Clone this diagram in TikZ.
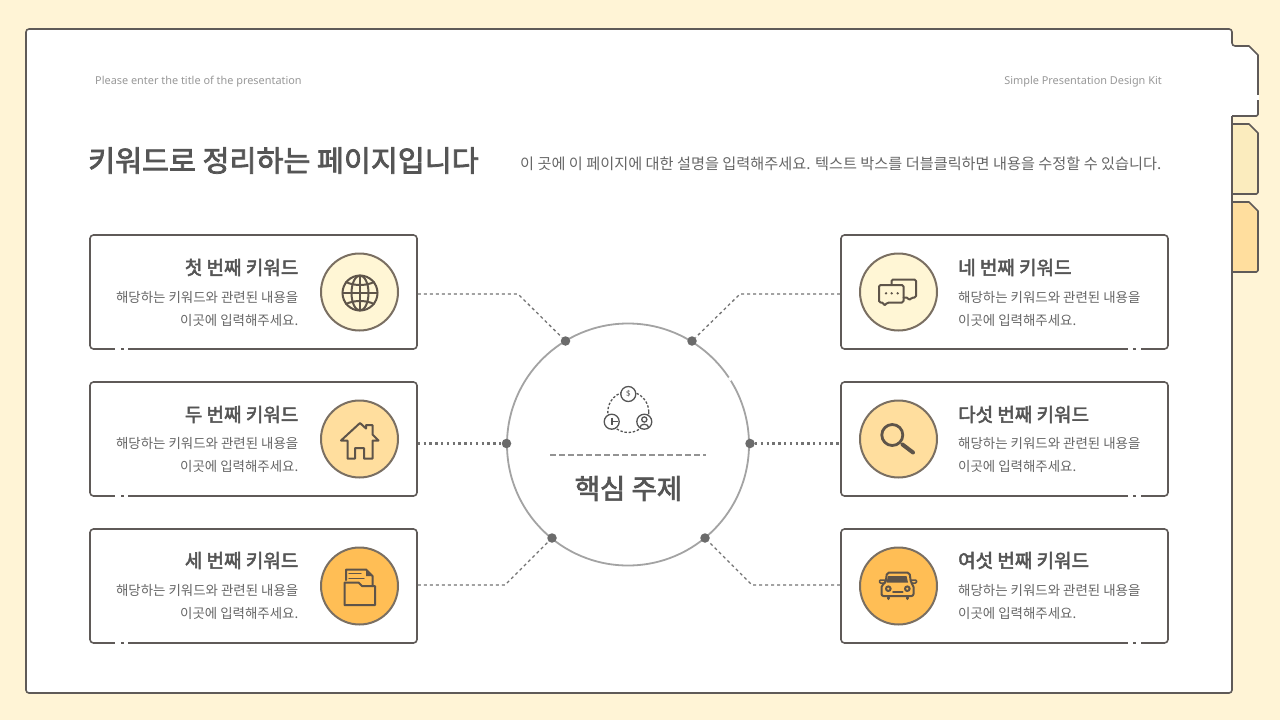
\documentclass[tikz,border=0pt]{standalone}
\usepackage{fontspec}
\setmainfont{Noto Sans CJK KR}
\newfontfamily\latinfont{Noto Sans}
\newfontfamily\medfont{Noto Sans CJK KR}[FakeBold=2.6]
\usepackage{tikz}
\definecolor{pagebg}{HTML}{FFF4D6}
\definecolor{linecol}{HTML}{5F5A58}
\definecolor{ringcol}{HTML}{7A6F62}
\definecolor{iconcol}{HTML}{5E5449}
\definecolor{textcol}{HTML}{555555}
\definecolor{bodycol}{HTML}{666666}
\definecolor{softcol}{HTML}{FFF6D5}
\definecolor{midcol}{HTML}{FFDE9E}
\definecolor{deepcol}{HTML}{FFBE55}
\definecolor{tabcol}{HTML}{FBECBE}

\begin{document}
\begin{tikzpicture}[x=1pt,y=-1pt]
    \useasboundingbox (0,0) rectangle (1280,720);
    \fill[pagebg] (0,0) rectangle (1280,720);

    \begin{scope}[draw=linecol,line width=1.6pt,line join=round]
        \filldraw[fill=tabcol] (1232,124) -- (1249,124) -- (1258,133) -- (1258,192) [rounded corners=1.5] -- (1258,194) -- (1232,194);
        \filldraw[fill=midcol] (1232,202) -- (1249,202) -- (1258,211) -- (1258,270) [rounded corners=1.5] -- (1258,272) -- (1232,272);
        \fill[white,rounded corners=3] (26,29) rectangle (1232,693);
        \fill[white] (1225,46) -- (1249,46) -- (1258,55) -- (1258,116) -- (1225,116) -- cycle;
        \draw (1232,116) -- (1232,690) [rounded corners=3] -- (1232,693) -- (26,693) -- (26,29) -- (1232,29) -- (1232,46) [sharp corners] -- (1249,46) -- (1258,55) -- (1258,114) [rounded corners=1.5] -- (1258,116) -- (1232,116);
        \draw[white,line width=2.4pt] (1258,95) -- (1258,100);
    \end{scope}

    \begin{scope}[every node/.style={draw=linecol,line width=1.6pt,fill=white,rounded corners=3.5,minimum width=327,minimum height=114,inner sep=0}]
        \node (card1) at (253.5,292) {};
        \node (card2) at (253.5,439) {};
        \node (card3) at (253.5,586) {};
        \node (card4) at (1004.5,292) {};
        \node (card5) at (1004.5,439) {};
        \node (card6) at (1004.5,586) {};
    \end{scope}

    \begin{scope}[draw=white,line width=2.4pt]
        \draw (115,349) -- (120.5,349);
        \draw (123.5,349) -- (128,349);
        \draw (115,496) -- (120.5,496);
        \draw (123.5,496) -- (128,496);
        \draw (115,643) -- (120.5,643);
        \draw (123.5,643) -- (128,643);
        \draw (1128,349) -- (1132.5,349);
        \draw (1135.5,349) -- (1141,349);
        \draw (1128,496) -- (1132.5,496);
        \draw (1135.5,496) -- (1141,496);
        \draw (1128,643) -- (1132.5,643);
        \draw (1135.5,643) -- (1141,643);
    \end{scope}

    \node[draw=gray!72,line width=1.8pt,fill=white,circle,minimum size=242,inner sep=0] (topic) at (628,444.5) {};
    \draw[white,line width=2.4pt] (729,377.5) -- (731,380.5);

    \begin{scope}[every node/.style={circle,fill=black!58,minimum size=9.5,inner sep=0}]
        \node (dot1) at (565.5,341) {};
        \node (dot2) at (506.5,443.5) {};
        \node (dot3) at (552,538) {};
        \node (dot4) at (692,341) {};
        \node (dot5) at (750,443.5) {};
        \node (dot6) at (705,538) {};
    \end{scope}

    \coordinate (bend1) at (518,294);
    \coordinate (bend3) at (505,585);
    \coordinate (bend4) at (740,294);
    \coordinate (bend6) at (752,585);
    \coordinate (ruleL) at (550,455);
    \coordinate (ruleR) at (706,455);

    \begin{scope}[draw=black!55,line width=1.3pt,dash pattern=on 3pt off 3pt]
        \draw (bend1 -| card1.east) -- (bend1) -- (dot1);
        \draw (bend3 -| card3.east) -- (bend3) -- (dot3);
        \draw (bend4 -| card4.west) -- (bend4) -- (dot4);
        \draw (bend6 -| card6.west) -- (bend6) -- (dot6);
    \end{scope}
    \begin{scope}[draw=black!55,line width=2.4pt,dash pattern=on 2.4pt off 3.4pt]
        \draw (dot2 -| card2.east) -- (dot2);
        \draw (dot5) -- (dot5 -| card5.west);
    \end{scope}
    \draw[gray!85,line width=1.2pt,dash pattern=on 5.5pt off 3.5pt] (ruleL) -- (ruleR);

    \begin{scope}[every node/.style={circle,draw=ringcol,line width=2pt,minimum size=77,inner sep=0}]
        \node[fill=softcol] (disc1) at (359.5,292) {};
        \node[fill=midcol] (disc2) at (359.5,439) {};
        \node[fill=deepcol] (disc3) at (359.5,586) {};
        \node[fill=softcol] (disc4) at (898.5,292) {};
        \node[fill=midcol] (disc5) at (898.5,439) {};
        \node[fill=deepcol] (disc6) at (898.5,586) {};
    \end{scope}

    \begin{scope}[every node/.style={anchor=east,inner sep=0,text=textcol,font=\medfont\fontsize{19}{19}\selectfont}]
        \node (head1) at (298.5,267.5) {첫 번째 키워드};
        \node (head2) at (298.5,414.5) {두 번째 키워드};
        \node (head3) at (298.5,560.5) {세 번째 키워드};
    \end{scope}
    \begin{scope}[every node/.style={anchor=west,inner sep=0,text=textcol,font=\medfont\fontsize{19}{19}\selectfont}]
        \node (head4) at (958,267.5) {네 번째 키워드};
        \node (head5) at (958,414.5) {다섯 번째 키워드};
        \node (head6) at (958,560.5) {여섯 번째 키워드};
    \end{scope}
    \begin{scope}[every node/.style={anchor=east,inner sep=0,text=bodycol,font=\fontsize{13.45}{13.45}\selectfont}]
        \node (body1a) at (298.5,297.5) {해당하는 키워드와 관련된 내용을};
        \node (body1b) at (298.5,320.5) {이곳에 입력해주세요.};
        \node (body2a) at (298.5,443.5) {해당하는 키워드와 관련된 내용을};
        \node (body2b) at (298.5,466.5) {이곳에 입력해주세요.};
        \node (body3a) at (298.5,590.5) {해당하는 키워드와 관련된 내용을};
        \node (body3b) at (298.5,613.5) {이곳에 입력해주세요.};
    \end{scope}
    \begin{scope}[every node/.style={anchor=west,inner sep=0,text=bodycol,font=\fontsize{13.45}{13.45}\selectfont}]
        \node (body4a) at (958,297.5) {해당하는 키워드와 관련된 내용을};
        \node (body4b) at (958,320.5) {이곳에 입력해주세요.};
        \node (body5a) at (958,443.5) {해당하는 키워드와 관련된 내용을};
        \node (body5b) at (958,466.5) {이곳에 입력해주세요.};
        \node (body6a) at (958,590.5) {해당하는 키워드와 관련된 내용을};
        \node (body6b) at (958,613.5) {이곳에 입력해주세요.};
    \end{scope}

    \node[anchor=west,inner sep=0,text=textcol,font=\medfont\fontsize{29.3}{29.3}\selectfont] (title) at (88,160.5) {키워드로 정리하는 페이지입니다};
    \node[anchor=west,inner sep=0,text=bodycol,font=\fontsize{15.2}{15.2}\selectfont] (intro) at (520,163.5) {이 곳에 이 페이지에 대한 설명을 입력해주세요. 텍스트 박스를 더블클릭하면 내용을 수정할 수 있습니다.};
    \node[anchor=west,inner sep=0,text=black!40,font=\latinfont\fontsize{10.9}{10.9}\selectfont] (deckL) at (95,82) {Please enter the title of the presentation};
    \node[anchor=east,inner sep=0,text=black!40,font=\latinfont\fontsize{10.9}{10.9}\selectfont] (deckR) at (1162,82) {Simple Presentation Design Kit};
    \node[inner sep=0,text=textcol,font=\medfont\fontsize{27.5}{27.5}\selectfont] (topictext) at (628.5,488.5) {핵심 주제};

    \begin{scope}[draw=textcol,line width=1.3pt]
        \draw[dash pattern=on 2.4pt off 1.8pt] (628.3,412) circle (20.5);
        \node[circle,draw=textcol,line width=1.3pt,fill=white,minimum size=15,inner sep=0,text=textcol,font=\latinfont\fontsize{8}{8}\selectfont] (coin) at (628.3,394) {\$};
        \node[circle,draw=textcol,line width=1.3pt,fill=white,minimum size=15,inner sep=0] (clock) at (611.7,421.7) {};
        \node[circle,draw=textcol,line width=1.3pt,fill=white,minimum size=15,inner sep=0] (user) at (644.3,421.7) {};
        \draw (612,417.5) -- (612,425) (612,421.7) -- (617.5,421.7);
        \draw (644.3,419.5) circle (2.6);
        \draw (639.8,428) .. controls (640,423) and (648.6,423) .. (648.8,428);
    \end{scope}

    \begin{scope}[draw=iconcol,line width=2pt,line join=round,line cap=round]
        \draw (360,293) circle (17.5);
        \draw (360,293) ellipse (8.5 and 17.5);
        \draw (360,275.5) -- (360,310.5);
        \draw (342.5,293) -- (377.5,293);
        \draw (346,282) .. controls (354,286) and (366,286) .. (374,282);
        \draw (346,304) .. controls (354,300) and (366,300) .. (374,304);

        \draw (341,440.5) -- (360,423) -- (366,428.5) -- (366,425) -- (372.5,425) -- (372.5,434.5) -- (378.5,440.5) -- (372.5,440.5) -- (372.5,458.5) -- (364,458.5) -- (364,448) -- (355,448) -- (355,458.5) -- (347.5,458.5) -- (347.5,440.5) -- cycle;

        \draw (346,580) -- (346,569.5) -- (366,569.5) -- (372.5,576) -- (372.5,586);
        \fill[iconcol] (366,570) -- (372,576) -- (366,576) -- cycle;
        \draw[line width=1.3pt] (349,573.5) -- (361,573.5) (349,578.5) -- (364,578.5);
        \draw (344.5,605) -- (344.5,582.5) -- (358.5,582.5) -- (362,586) -- (375,586) -- (375,605) -- cycle;

        \draw[rounded corners=1.5] (891.5,285) -- (891.5,279.5) -- (916,279.5) -- (916,297.5) -- (912,297.5) -- (909,300.5) -- (908,297.5) -- (903.5,297.5);
        \draw[rounded corners=1.5] (879,285) -- (903.5,285) -- (903.5,302.5) -- (887.5,302.5) -- (884,306) -- (883.5,302.5) -- (879,302.5) -- cycle;
        \fill[iconcol] (886,293.3) circle (1.3) (891.7,293.3) circle (1.3) (897.7,293.3) circle (1.3);

        \draw[line width=2.8pt] (892.3,435) circle (10.5);
        \draw[line width=4pt] (902.5,444.5) -- (913,452.5);

        \draw[rounded corners=2] (885.5,583) -- (887,572.5) -- (909.5,572.5) -- (911,583) -- (913.5,585) -- (913.5,596) -- (881.5,596) -- (881.5,585) -- cycle;
        \fill[iconcol] (888,576) -- (906.5,576) -- (908,582.5) -- (886.5,582.5) -- cycle;
        \draw (888.3,588.7) circle (2.3) (907.3,588.7) circle (2.3);
        \draw (893,592) -- (902.5,592);
        \draw[line width=3pt] (888,597.5) -- (888,598.5) (907,597.5) -- (907,598.5);
        \draw[line width=1.5pt,rounded corners=1] (885,583) -- (879.5,583) -- (879.5,580) -- (885.5,580);
        \draw[line width=1.5pt,rounded corners=1] (911,583) -- (916.5,583) -- (916.5,580) -- (910.5,580);
    \end{scope}
\end{tikzpicture}
\end{document}
